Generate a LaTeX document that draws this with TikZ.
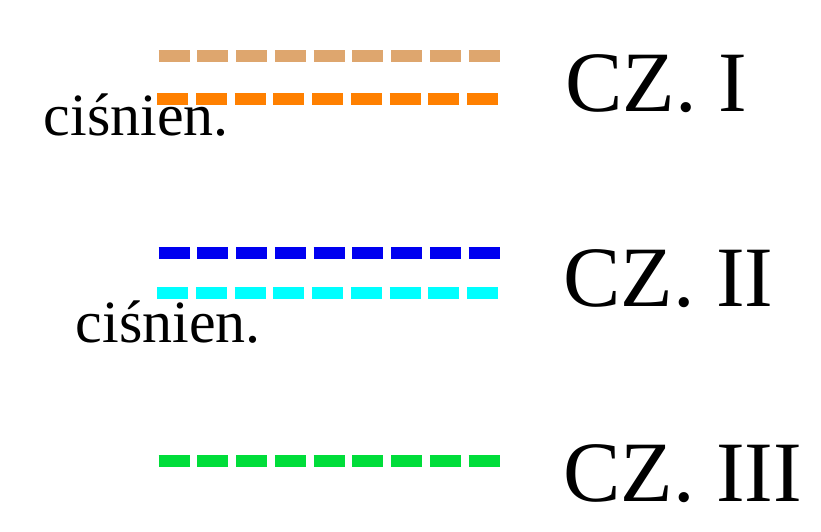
\documentclass[tikz,border=0pt]{standalone}
\usepackage{fontspec}
\setmainfont{Liberation Serif}
\definecolor{tanc}{RGB}{222,166,110}
\definecolor{orangec}{RGB}{255,128,0}
\definecolor{bluec}{RGB}{0,0,240}
\definecolor{cyanc}{RGB}{0,255,255}
\definecolor{greenc}{RGB}{0,221,58}
\tikzset{
  dline/.style={line width=12pt, dash pattern=on 31pt off 7.75pt},
  biglabel/.style={anchor=base west, inner sep=0pt, font=\fontsize{86}{90}\selectfont},
  smalllabel/.style={anchor=base west, inner sep=0pt, font=\fontsize{60}{64}\selectfont}
}
\begin{document}
\begin{tikzpicture}[x=1pt,y=-1pt]
\useasboundingbox (0,0) rectangle (821,531);
\coordinate (a1) at (158.5,56);  \coordinate (a2) at (500.5,56);
\coordinate (b1) at (157,99);    \coordinate (b2) at (499,99);
\coordinate (c1) at (158.5,253); \coordinate (c2) at (500.5,253);
\coordinate (d1) at (157,293);   \coordinate (d2) at (499,293);
\coordinate (e1) at (158.5,461); \coordinate (e2) at (500.5,461);
\draw[dline, tanc] (a1) -- (a2);
\draw[dline, orangec] (b1) -- (b2);
\draw[dline, bluec] (c1) -- (c2);
\draw[dline, cyanc] (d1) -- (d2);
\draw[dline, greenc] (e1) -- (e2);
\node[biglabel] (t1) at (565,111) {CZ. I};
\node[biglabel] (t2) at (563,306) {CZ. II};
\node[biglabel] (t3) at (563,501) {CZ. III};
\node[smalllabel] (p1) at (43.5,135) {ciśnien.};
\node[smalllabel] (p2) at (75.5,342) {ciśnien.};
\end{tikzpicture}
\end{document}
